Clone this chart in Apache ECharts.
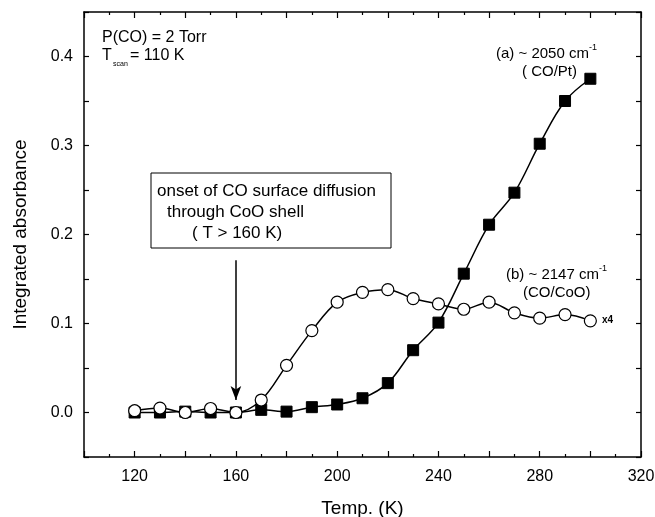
<!DOCTYPE html>
<html>
<head>
<meta charset="utf-8">
<script src="https://cdn.jsdelivr.net/npm/echarts@6/dist/echarts.min.js"></script>
<style>html,body{margin:0;padding:0;background:#fff;}#c{width:655px;height:517px;}</style>
</head>
<body>
<div id="c"></div>
<script>
var temps = [120,130,140,150,160,170,180,190,200,210,220,230,240,250,260,270,280,290,300];
var coPt = [0.000,0.000,0.001,0.000,0.000,0.003,0.001,0.006,0.009,0.016,0.033,0.070,0.101,0.156,0.211,0.247,0.302,0.350,0.375];
var coCoO = [0.002,0.005,0.000,0.0045,0.000,0.014,0.053,0.092,0.124,0.135,0.138,0.128,0.122,0.116,0.124,0.112,0.106,0.110,0.103];
var xTickLabels = [120,160,200,240,280,320];
var yTickLabels = [0.0,0.1,0.2,0.3,0.4];
var arrowFrom = [160, 0.171];
var arrowTo = [160, 0.014];

var FONT = 'Liberation Sans, Arial, Helvetica, sans-serif';
function pairs(xs, ys){ return xs.map(function(x,i){ return [x, ys[i]]; }); }

var chart = echarts.init(document.getElementById('c'), null, {renderer:'canvas'});
var axisLineStyle = {color:'#000', width:1.5};
function xAx(pos, show){
  return {
    type:'value', position:pos, min:100, max:320, interval:20,
    name: show ? 'Temp. (K)' : '', nameLocation:'middle', nameGap:42,
    nameTextStyle:{fontFamily:FONT, fontSize:19, color:'#000'},
    axisLine:{show:true, lineStyle:axisLineStyle, onZero:false},
    axisTick:{show:true, inside:true, length:6, lineStyle:{color:'#000', width:1.2}},
    minorTick:{show:true, splitNumber:2, length:3, lineStyle:{color:'#000', width:1.2}},
    splitLine:{show:false},
    axisLabel:{show:show, margin:12, fontFamily:FONT, fontSize:16, color:'#000',
      formatter:function(v){ return xTickLabels.indexOf(Math.round(v))>=0 ? String(Math.round(v)) : ''; }}
  };
}
function yAx(pos, show){
  return {
    type:'value', position:pos, min:-0.05, max:0.45, interval:0.05,
    name: show ? 'Integrated absorbance' : '', nameLocation:'middle', nameGap:54,
    nameTextStyle:{fontFamily:FONT, fontSize:19, color:'#000'},
    axisLine:{show:true, lineStyle:axisLineStyle, onZero:false},
    axisTick:{show:true, inside:true, length:5, lineStyle:{color:'#000', width:1.2}},
    splitLine:{show:false},
    axisLabel:{show:show, margin:11, fontFamily:FONT, fontSize:16, color:'#000',
      formatter:function(v){
        for (var i=0;i<yTickLabels.length;i++){ if (Math.abs(yTickLabels[i]-v)<1e-6) return yTickLabels[i].toFixed(1); }
        return '';
      }}
  };
}

var txt = function(t, x, y, size, extra){
  var s = {text:t, x:x, y:y, fontFamily:FONT, fontSize:size, fill:'#000', textVerticalAlign:'middle', textAlign:'left'};
  if (extra) for (var k in extra) s[k]=extra[k];
  return {type:'text', style:s, z:100};
};

chart.setOption({
  animation:false,
  backgroundColor:'#fff',
  grid:{left:84, right:14, top:12, bottom:60, containLabel:false, outerBoundsMode:'none'},
  xAxis:[xAx('bottom', true), xAx('top', false)],
  yAxis:[yAx('left', true), yAx('right', false)],
  series:[
    {type:'line', name:'CO/Pt', xAxisIndex:0, yAxisIndex:0, data:pairs(temps, coPt), smooth:0.35,
     symbol:'rect', symbolSize:11, showAllSymbol:true,
     itemStyle:{color:'#000', borderColor:'#000'}, lineStyle:{color:'#000', width:1.5}, z:2},
    {type:'line', name:'CO/CoO', xAxisIndex:0, yAxisIndex:0, data:pairs(temps, coCoO), smooth:0.35,
     symbol:'circle', symbolSize:12, showAllSymbol:true,
     itemStyle:{color:'#fff', borderColor:'#000', borderWidth:1.2}, lineStyle:{color:'#000', width:1.5}, z:3,
     markLine:{silent:true, symbol:['none','arrow'], symbolSize:[8,14], label:{show:false},
       lineStyle:{color:'#000', width:1.5, type:'solid'},
       data:[[{coord:arrowFrom},{coord:arrowTo}]]}}
  ],
  graphic:[
    txt('P(CO) = 2 Torr', 102, 38, 16),
    txt('T', 102, 56, 16),
    txt('scan', 113, 64, 7),
    txt('= 110 K', 130, 56, 16),
    txt('(a) ~ 2050 cm', 496, 54, 15),
    txt('-1', 589, 48, 9),
    txt('( CO/Pt)', 522, 72, 15),
    txt('(b) ~ 2147 cm', 506, 275, 15),
    txt('-1', 599, 269, 9),
    txt('(CO/CoO)', 523, 293, 15),
    txt('x4', 602, 320, 10, {fontWeight:'bold'}),
    {type:'rect', shape:{x:151, y:173, width:240, height:75}, style:{fill:'#fff', stroke:'#000', lineWidth:1}, z:90},
    txt('onset of CO surface diffusion', 157, 191, 17),
    txt('through CoO shell', 167, 212, 17),
    txt('( T > 160 K)', 192, 233, 17)
  ]
});
</script>
</body>
</html>
